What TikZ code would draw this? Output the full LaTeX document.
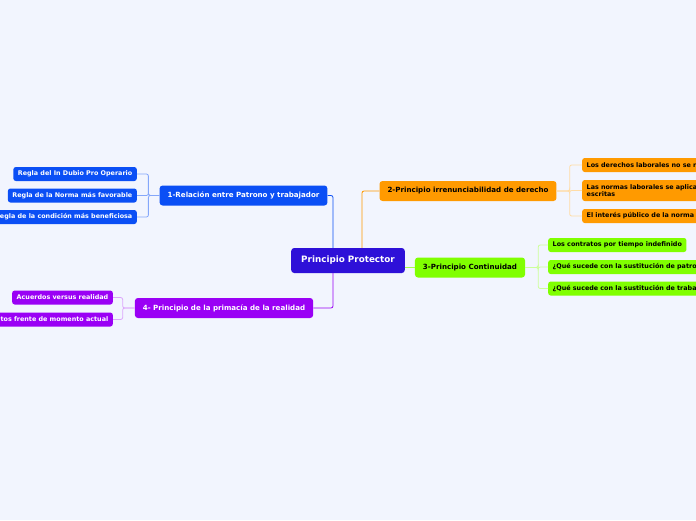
\documentclass[tikz,border=0pt]{standalone}
\usepackage{fontspec}
\setmainfont{DejaVu Sans}
\usepackage{xcolor}
\usetikzlibrary{positioning, calc}

\definecolor{fondo}{HTML}{F2F5FE}
\definecolor{violeta}{HTML}{2E10D8}
\definecolor{azul}{HTML}{0B4FF5}
\definecolor{naranja}{HTML}{FF9A00}
\definecolor{verde}{HTML}{80FF00}
\definecolor{morado}{HTML}{9A00F5}

\begin{document}
\begin{tikzpicture}[x=1pt, y=-1pt,
    principal/.style={fill=violeta, text=white, rounded corners=3pt, font=\fontsize{8.8}{10}\selectfont\bfseries, minimum height=25pt, inner xsep=10pt},
    tema/.style={rounded corners=3pt, font=\fontsize{7.1}{8.5}\selectfont\bfseries, minimum height=20pt, inner xsep=8pt},
    hoja/.style={rounded corners=2.5pt, font=\fontsize{6.4}{7.2}\selectfont\bfseries, minimum height=14pt, inner xsep=4.5pt, inner ysep=2pt},
    lazo/.style={line width=0.8pt, rounded corners=2pt}]
    % fondo y recorte
    \useasboundingbox (0, 0) rectangle (696, 520);
    \fill[fondo] (0, 0) rectangle (696, 520);
    \clip (0, 0) rectangle (696, 520);

    % nodo central
    \node[principal] (pp) at (348, 260.5) {Principio Protector};

    % ramas principales
    \node[tema, fill=azul, text=white] (t1) at (243.5, 195.5) {1-Relación entre Patrono y trabajador};
    \node[tema, fill=naranja] (t2) at (468, 191) {2-Principio irrenunciabilidad de derecho};
    \node[tema, fill=verde] (t3) at (470, 267.5) {3-Principio Continuidad};
    \node[tema, fill=morado, text=white] (t4) at (224, 308) {4- Principio de la primacía de la realidad};

    % hojas de la rama 1
    \node[hoja, fill=azul, text=white, anchor=east] (r1) at (137, 174) {Regla del In Dubio Pro Operario};
    \node[hoja, fill=azul, text=white, anchor=east] (r2) at (137, 195.5) {Regla de la Norma más favorable};
    \node[hoja, fill=azul, text=white, anchor=east] (r3) at (137, 217) {Regla de la condición más beneficiosa};

    % hojas de la rama 2
    \node[hoja, fill=naranja, anchor=west, text width=140pt, align=left] (o1) at (582, 165) {Los derechos laborales no se r};
    \node[hoja, fill=naranja, anchor=west, text width=140pt, align=left, minimum height=21pt] (o2) at (582, 190.5) {Las normas laborales se aplica\\escritas};
    \node[hoja, fill=naranja, anchor=west, text width=140pt, align=left] (o3) at (582, 216) {El interés público de la norma};

    % hojas de la rama 3
    \node[hoja, fill=verde, anchor=west] (g1) at (548, 245) {Los contratos por tiempo indefinido};
    \node[hoja, fill=verde, anchor=west, text width=170pt, align=left] (g2) at (548, 267) {¿Qué sucede con la sustitución de patro};
    \node[hoja, fill=verde, anchor=west, text width=170pt, align=left] (g3) at (548, 288.5) {¿Qué sucede con la sustitución de traba};

    % hojas de la rama 4
    \node[hoja, fill=morado, text=white, anchor=east] (p1) at (113, 297.5) {Acuerdos versus realidad};
    \node[hoja, fill=morado, text=white, anchor=east] (p2) at (113, 319.5) {tos frente de momento actual};

    % uniones al centro
    \draw[lazo, azul] (t1.east) -| ([xshift=-15pt]pp.north);
    \draw[lazo, naranja] ([xshift=14pt]pp.north) |- (t2.west);
    \draw[lazo, verde!70] (t3.west -| pp.east) -- (t3.west);
    \draw[lazo, morado] ([xshift=-15pt]pp.south) |- (t4.east);

    % uniones de las hojas
    \coordinate (j1) at ([xshift=-11pt]t1.west);
    \coordinate (j2) at ([xshift=13pt]t2.east);
    \coordinate (j3) at ([xshift=13pt]t3.east);
    \coordinate (j4) at ([xshift=-12pt]t4.west);
    \foreach \h in {r1, r2, r3}
        \draw[lazo, azul!50] (t1.west) -- (j1) |- (\h.east);
    \foreach \h in {o1, o2, o3}
        \draw[lazo, naranja!35] (t2.east) -- (j2) |- (\h.west);
    \foreach \h in {g1, g2, g3}
        \draw[lazo, verde!40] (t3.east) -- (j3) |- (\h.west);
    \foreach \h in {p1, p2}
        \draw[lazo, morado!35] (t4.west) -- (j4) |- (\h.east);
\end{tikzpicture}
\end{document}
